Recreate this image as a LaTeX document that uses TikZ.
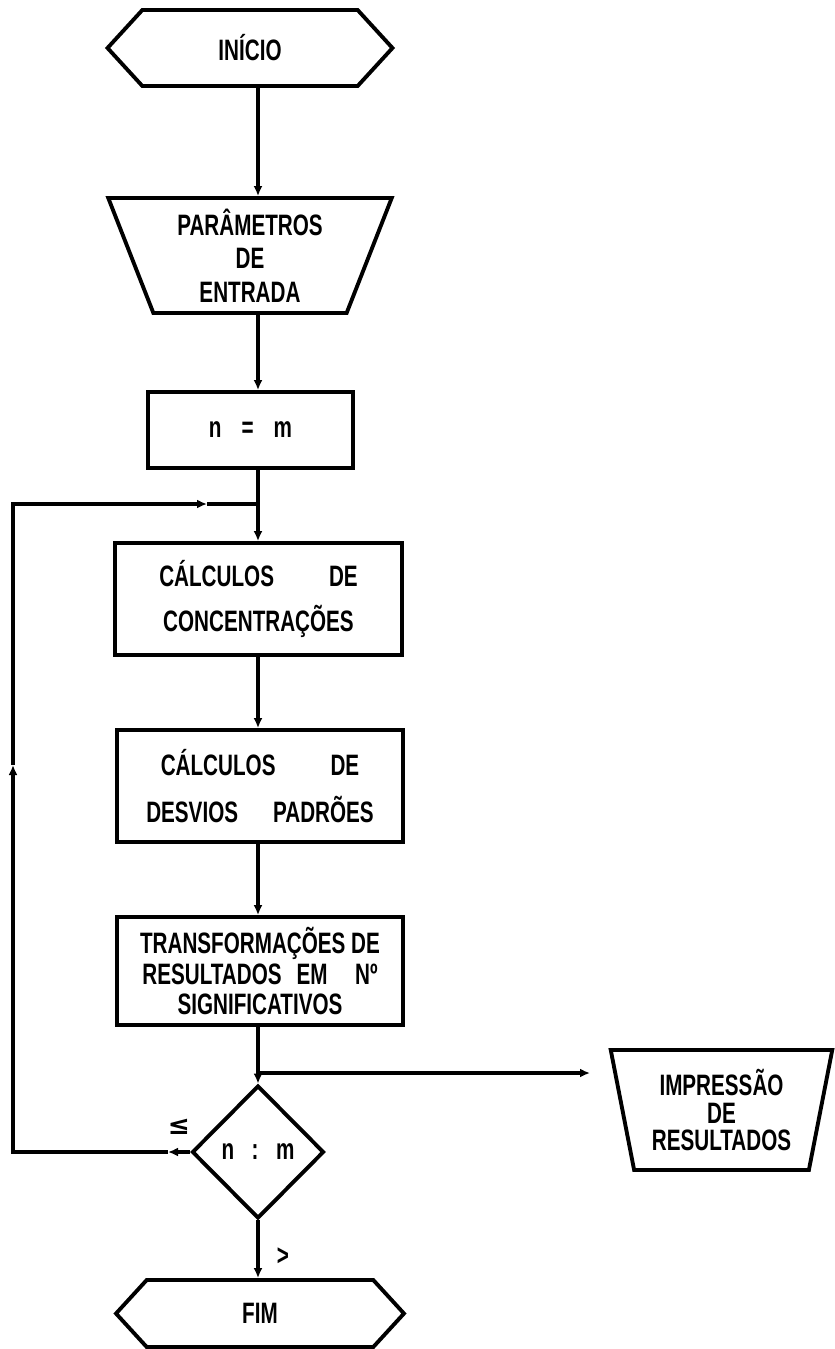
\documentclass[tikz,border=0pt]{standalone}
\usepackage{fontspec}
\usepackage{tikz}
\usetikzlibrary{shapes.geometric,shapes.symbols,arrows.meta}
\newfontfamily\flowfont{Liberation Sans}[FakeStretch=0.7]
\newfontfamily\symfont{DejaVu Sans}

\begin{document}
\begin{tikzpicture}[x=0.02cm,y=-0.02cm,line width=2.2pt,
  lbl/.style={font=\flowfont\bfseries\fontsize{16.8}{19}\selectfont,align=center},
  term/.style={lbl,draw,signal,signal to=east and west,signal pointer angle=95,inner sep=0pt},
  iobox/.style={lbl,draw,trapezium,trapezium stretches=true,shape border rotate=180,inner sep=0pt},
  procbox/.style={lbl,draw,rectangle,inner sep=0pt},
  test/.style={lbl,draw,diamond,inner sep=0pt,minimum width=2.64cm,minimum height=2.66cm},
  flow/.style={-{Latex[length=2mm,width=1.8mm]}}]
\useasboundingbox (0,0) rectangle (835,1349);
\coordinate (spine) at (258,0);
\node[term,minimum width=5.7cm,minimum height=1.52cm] (ini) at (250,48) {INÍCIO};
\node[iobox,trapezium angle=70,minimum width=5.68cm,minimum height=2.3cm] (par) at (250,255.5) {PARÂMETROS\\DE\\ENTRADA};
\node[procbox,minimum width=4.1cm,minimum height=1.52cm] (nm) at (250.5,430) {n\hspace{0.4cm}=\hspace{0.4cm}m};
\node[procbox,minimum width=5.74cm,minimum height=2.24cm] (calc) at (258.5,599) {CÁLCULOS\hspace{1.1cm}DE\\[6.6pt]CONCENTRAÇÕES};
\node[procbox,minimum width=5.72cm,minimum height=2.24cm] (desv) at (260,786) {CÁLCULOS\hspace{1.1cm}DE\\[7.7pt]DESVIOS\hspace{0.7cm}PADRÕES};
\node[procbox,minimum width=5.72cm,minimum height=2.16cm] (trans) at (260,971) {TRANSFORMAÇÕES DE\\[-1.6pt]RESULTADOS\hspace{0.3cm}EM\hspace{0.55cm}Nº\\[-1.6pt]SIGNIFICATIVOS};
\node[test] (dec) at (258,1152) {n\hspace{0.35cm}:\hspace{0.35cm}m};
\node[term,minimum width=5.76cm,minimum height=1.34cm] (fim) at (260,1313.5) {FIM};
\node[iobox,trapezium angle=77,minimum width=4.46cm,minimum height=2.4cm] (imp) at (721.5,1110) {IMPRESSÃO\\[-3.6pt]DE\\[-3.6pt]RESULTADOS};
\node[font=\symfont\bfseries\fontsize{15}{18}\selectfont] (le) at (179,1127) {≤};
\node[lbl] (gt) at (283,1257) {>};
\coordinate (join) at (258,504);
\coordinate (br) at (258,1073);
\coordinate (impin) at (590,1073);
\coordinate (lpa) at (168,1152);
\coordinate (lpb) at (13,1152);
\coordinate (lpc) at (13,765);
\coordinate (lpd) at (13,504);
\coordinate (lpe) at (207,504);
\draw[flow] (ini.south -| spine) -- (par.north -| spine);
\draw[flow] (par.south -| spine) -- (nm.north -| spine);
\draw[flow] (nm.south -| spine) -- (calc.north -| spine);
\draw[flow] (calc.south -| spine) -- (desv.north -| spine);
\draw[flow] (desv.south -| spine) -- (trans.north -| spine);
\draw[flow] (trans.south -| spine) -- (dec.north);
\draw[flow] (br) -- (impin);
\draw[flow] (dec.south) -- (fim.north -| dec.south);
\draw[flow] (dec.west) -- (lpa);
\draw[flow] (lpa) -- (lpb) -- (lpc);
\draw[flow] (lpc) -- (lpd) -- (lpe);
\draw (lpe) -- (join);
\end{tikzpicture}
\end{document}
